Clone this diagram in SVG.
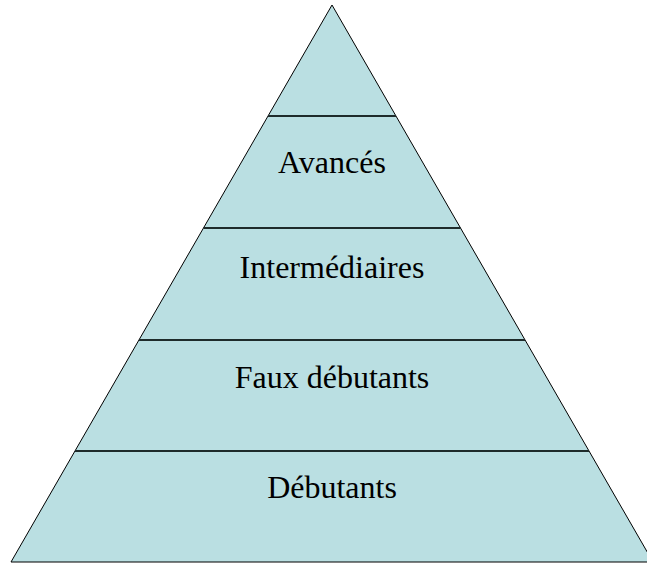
<svg xmlns="http://www.w3.org/2000/svg" width="647" height="563" viewBox="0 0 647 563">
<style>
.lbl{font-family:"Liberation Serif","Times New Roman",serif;font-size:32px;fill:#000;text-anchor:middle}
.div{stroke:#1e2b2b;stroke-width:2;fill:none}
</style>
<rect width="647" height="563" fill="#ffffff"/>
<g id="pyramid">
<polygon points="332,5 11,562 653,562" fill="#BADFE2" stroke="#000" stroke-width="1"/>
</g>
<g id="connectors">
<line class="div" x1="268" y1="116" x2="396" y2="116"/>
<line class="div" x1="203.5" y1="228" x2="460.5" y2="228"/>
<line class="div" x1="139" y1="340" x2="525" y2="340"/>
<line class="div" x1="75" y1="451" x2="589" y2="451"/>
</g>
<g id="avances"><text class="lbl" x="332" y="173">Avancés</text></g>
<g id="intermediaires"><text class="lbl" x="332" y="278">Intermédiaires</text></g>
<g id="faux-debutants"><text class="lbl" x="332" y="388">Faux débutants</text></g>
<g id="debutants"><text class="lbl" x="332" y="498">Débutants</text></g>
</svg>
